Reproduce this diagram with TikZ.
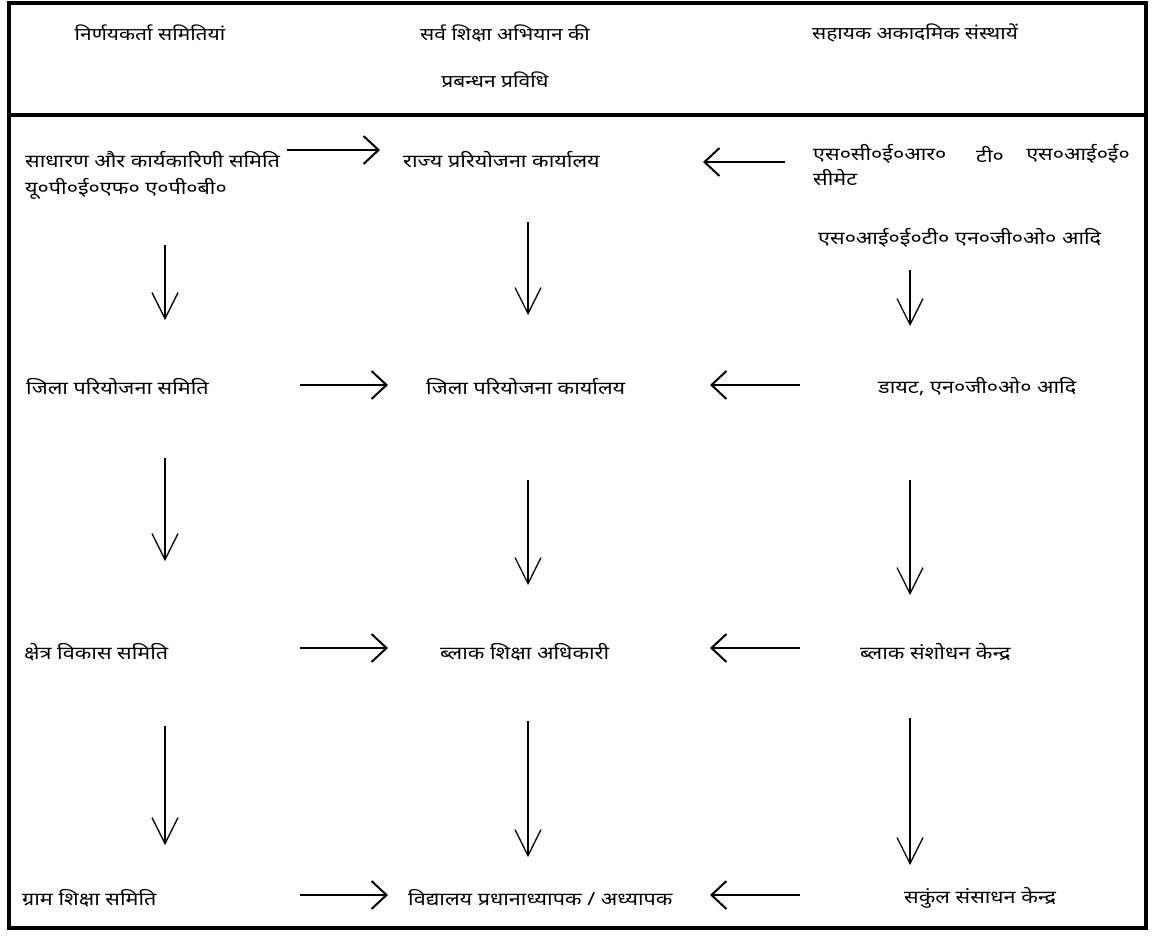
\documentclass[tikz,border=0pt]{standalone}
\usepackage{fontspec}
\newfontfamily\hindi[Script=Devanagari, FakeStretch=1.2]{Noto Sans}
\usetikzlibrary{arrows.meta}

\tikzset{
  txt/.style = {font = \hindi\fontsize{18}{21}\selectfont, inner sep = 0pt, anchor = west},
  hdr/.style = {font = \hindi\fontsize{17.5}{21}\selectfont, inner sep = 0pt},
  flow/.style = {line width = 2.2pt,
    -{Straight Barb[length = 15pt, width = 28pt, line width = 2pt]}},
  down/.style = {line width = 1.3pt,
    -{Straight Barb[length = 26pt, width = 26pt, line width = 1.3pt]}},
}

\begin{document}
\begin{tikzpicture}[x = 1pt, y = -1pt]
  \useasboundingbox (0, 0) rectangle (1152, 940);

  % frame and header rule
  \draw[line width = 4pt] (9, 3) rectangle (1146, 928);
  \draw[line width = 4pt] (9, 115) -- (1146, 115);

  % headers
  \node[hdr] (hdec) at (150, 33) {निर्णयकर्ता समितियां};
  \node[hdr] (hmgt) at (505, 33) {सर्व शिक्षा अभियान की};
  \node[hdr] (hmgt2) at (495, 80) {प्रबन्धन प्रविधि};
  \node[hdr] (hsup) at (915, 33) {सहायक अकादमिक संस्थायें};

  % first row
  \node[txt] (dec1) at (25, 160) {साधारण और कार्यकारिणी समिति};
  \node[txt] (dec1b) at (25, 189) {यू०पी०ई०एफ० ए०पी०बी०};
  \node[txt] (mgt1) at (403, 160) {राज्य प्ररियोजना कार्यालय};
  \node[txt] (sup1) at (813, 154) {एस०सी०ई०आर०};
  \node[txt, anchor = center] (sup1t) at (990, 154) {टी०};
  \node[txt, anchor = east] (sup1s) at (1130, 154) {एस०आई०ई०};
  \node[txt] (sup1b) at (813, 178) {सीमेट};
  \node[txt] (sup1c) at (818, 238) {एस०आई०ई०टी० एन०जी०ओ० आदि};

  % second row
  \node[txt] (dec2) at (26, 387) {जिला परियोजना समिति};
  \node[txt] (mgt2) at (426, 387) {जिला परियोजना कार्यालय};
  \node[txt] (sup2) at (878, 387) {डायट, एन०जी०ओ० आदि};

  % third row
  \node[txt] (dec3) at (24, 652) {क्षेत्र विकास समिति};
  \node[txt] (mgt3) at (440, 652) {ब्लाक शिक्षा अधिकारी};
  \node[txt] (sup3) at (860, 652) {ब्लाक संशोधन केन्द्र};

  % fourth row
  \node[txt] (dec4) at (22, 898) {ग्राम शिक्षा समिति};
  \node[txt] (mgt4) at (408, 898) {विद्यालय प्रधानाध्यापक / अध्यापक};
  \node[txt] (sup4) at (904, 898) {सकुंल संसाधन केन्द्र};

  % arrow ends
  \coordinate (a1) at (287, 150);  \coordinate (b1) at (380, 150);
  \coordinate (c1) at (785, 162);  \coordinate (d1) at (703, 162);
  \foreach \n/\y in {2/385, 3/648, 4/895}{
    \coordinate (a\n) at (300, \y);  \coordinate (b\n) at (388, \y);
    \coordinate (c\n) at (800, \y);  \coordinate (d\n) at (710, \y);
  }

  \foreach \n in {1, ..., 4}{
    \draw[flow] (a\n) -- (b\n);
    \draw[flow] (c\n) -- (d\n);
  }

  % vertical flow
  \foreach \x/\ya/\yb/\yc/\yd/\ye/\yf in
    {165/245/320/458/561/726/845,
     528/222/315/480/585/721/857,
     910/270/326/480/595/718/865}{
    \draw[down] (\x, \ya) -- (\x, \yb);
    \draw[down] (\x, \yc) -- (\x, \yd);
    \draw[down] (\x, \ye) -- (\x, \yf);
  }
\end{tikzpicture}
\end{document}
